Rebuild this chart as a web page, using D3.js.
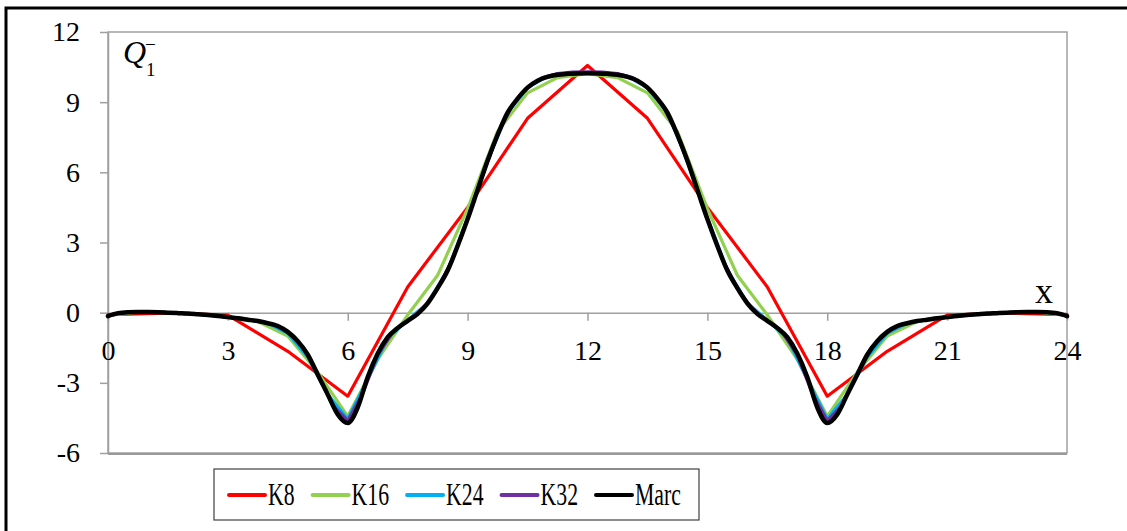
<!DOCTYPE html>
<html>
<head>
<meta charset="utf-8">
<script src="https://cdn.jsdelivr.net/npm/d3@7"></script>
<style>
  body { margin: 0; background: #fff; }
  svg text { font-family: "Liberation Serif", "Times New Roman", serif; fill: #000; }
</style>
</head>
<body>
<div id="chart"></div>
<script>
// Q1- values, x from 0 to 24
const seriesNames = ["K8", "K16", "K24", "K32", "Marc"];
const seriesColors = ["#ff0000", "#92d050", "#00b0f0", "#7030a0", "#000000"];
const seriesSteps = [1.5, 0.75, 0.5, 0.375, 0.25];

const k8 = [-0.08, -0.02, -0.10, -1.65, -3.57, 1.10, 4.50, 8.31, 10.57, 8.31, 4.50, 1.10, -3.57, -1.65, -0.10, -0.02, -0.08];

const k16 = [-0.12, 0.02, 0.00, -0.06, -0.18, -0.38, -1.00, -2.55, -4.43, -2.00, -0.10, 1.60, 4.45, 7.75, 9.40, 10.05, 10.22,
  10.05, 9.40, 7.75, 4.45, 1.60, -0.10, -2.00, -4.43, -2.55, -1.00, -0.38, -0.18, -0.06, 0.00, 0.02, -0.12];

const k24 = [-0.13, 0.02, 0.03, 0.00, -0.04, -0.10, -0.19, -0.30, -0.46, -0.88, -1.90, -3.50, -4.55, -2.85, -1.10, -0.32,
  0.42, 1.82, 4.05, 6.50, 8.55, 9.62, 10.10, 10.24, 10.26,
  10.24, 10.10, 9.62, 8.55, 6.50, 4.05, 1.82, 0.42, -0.32, -1.10, -2.85, -4.55, -3.50, -1.90, -0.88, -0.46, -0.30,
  -0.19, -0.10, -0.04, 0.00, 0.03, 0.02, -0.13];

const k32 = [-0.14, 0.00, 0.03, 0.03, 0.00, -0.03, -0.07, -0.12, -0.19, -0.26, -0.36, -0.50, -0.84, -1.45, -2.65, -3.95,
  -4.62, -3.45, -1.80, -0.85, -0.34, 0.15, 1.05, 2.30, 4.00, 5.88, 7.62, 8.88, 9.65, 10.05, 10.22, 10.29, 10.30,
  10.29, 10.22, 10.05, 9.65, 8.88, 7.62, 5.88, 4.00, 2.30, 1.05, 0.15, -0.34, -0.85, -1.80, -3.45, -4.62, -3.95,
  -2.65, -1.45, -0.84, -0.50, -0.36, -0.26, -0.19, -0.12, -0.07, -0.03, 0.00, 0.03, 0.03, 0.00, -0.14];

const marc = [-0.15, -0.02, 0.02, 0.03, 0.03, 0.02, 0.00, -0.02, -0.04, -0.07, -0.10, -0.14, -0.19, -0.24, -0.30, -0.36,
  -0.45, -0.57, -0.82, -1.22, -1.80, -2.65, -3.50, -4.35, -4.72, -4.05, -2.75, -1.75, -1.05, -0.65, -0.35, -0.05,
  0.40, 1.05, 1.80, 2.85, 4.00, 5.25, 6.50, 7.60, 8.55, 9.15, 9.62, 9.92, 10.08, 10.17, 10.21, 10.23, 10.24,
  10.23, 10.21, 10.17, 10.08, 9.92, 9.62, 9.15, 8.55, 7.60, 6.50, 5.25, 4.00, 2.85, 1.80, 1.05, 0.40, -0.05,
  -0.35, -0.65, -1.05, -1.75, -2.75, -4.05, -4.72, -4.35, -3.50, -2.65, -1.80, -1.22, -0.82, -0.57, -0.45, -0.36,
  -0.30, -0.24, -0.19, -0.14, -0.10, -0.07, -0.04, -0.02, 0.00, 0.02, 0.03, 0.03, 0.02, -0.02, -0.15];

const seriesValues = [k8, k16, k24, k32, marc];
const xTicks = [0, 3, 6, 9, 12, 15, 18, 21, 24];
const yTicks = [-6, -3, 0, 3, 6, 9, 12];

const width = 1127, height = 531;
const margin = { top: 32, right: 60, bottom: 78, left: 108 };
const axisGray = "#a0a0a0";

const svg = d3.select("#chart").append("svg")
  .attr("width", width)
  .attr("height", height);

// outer black frame (top and left edges are visible)
svg.append("path")
  .attr("d", `M6,${height}V8H${width}`)
  .attr("fill", "none")
  .attr("stroke", "#000")
  .attr("stroke-width", 3);

const x = d3.scaleLinear().domain([0, 24]).range([margin.left, width - margin.right]);
const y = d3.scaleLinear().domain([-6, 12]).range([height - margin.bottom, margin.top]);

// plot area border
svg.append("rect")
  .attr("x", x(0))
  .attr("y", y(12))
  .attr("width", x(24) - x(0))
  .attr("height", y(-6) - y(12))
  .attr("fill", "none")
  .attr("stroke", axisGray)
  .attr("stroke-width", 1.5);
svg.append("line")
  .attr("x1", x(0)).attr("x2", x(24))
  .attr("y1", y(-6) + 1).attr("y2", y(-6) + 1)
  .attr("stroke", "#999").attr("stroke-width", 2);

// Y axis
const yAxis = svg.append("g")
  .attr("transform", `translate(${x(0)},0)`)
  .call(d3.axisLeft(y).tickValues(yTicks).tickSizeInner(8).tickSizeOuter(0).tickPadding(20));

// X axis, crossing at y = 0
const xAxis = svg.append("g")
  .attr("transform", `translate(0,${y(0)})`)
  .call(d3.axisBottom(x).tickValues(xTicks).tickSizeInner(8).tickSizeOuter(0).tickPadding(19));

[yAxis, xAxis].forEach((ax) => {
  ax.select(".domain").attr("stroke", axisGray).attr("stroke-width", 1.5);
  ax.selectAll(".tick line").attr("stroke", axisGray).attr("stroke-width", 1.5);
  ax.selectAll(".tick text")
    .attr("font-family", "Liberation Serif, Times New Roman, serif")
    .attr("font-size", 28)
    .attr("fill", "#000");
});
yAxis.selectAll(".tick text").text((d) => (d < 0 ? "-" + Math.abs(d) : d));

// lines
const plot = svg.append("g");
seriesNames.forEach((name, i) => {
  const step = seriesSteps[i];
  const line = d3.line()
    .x((d, j) => x(j * step))
    .y((d) => y(d))
    .curve(name == "Marc" ? d3.curveMonotoneX : d3.curveLinear);
  plot.append("path")
    .datum(seriesValues[i])
    .attr("d", line)
    .attr("fill", "none")
    .attr("stroke", seriesColors[i])
    .attr("stroke-width", name == "Marc" ? 4.5 : 3.2)
    .attr("stroke-linejoin", "round")
    .attr("stroke-linecap", "round");
});

// Q1- label: letter, subscript and superscript as separate texts
svg.append("text").attr("x", 123).attr("y", 63).attr("font-size", 32).attr("font-style", "italic").text("Q");
svg.append("text").attr("x", 146).attr("y", 76).attr("font-size", 19).text("1");
svg.append("text").attr("x", 145).attr("y", 51).attr("font-size", 19).text("\u2212");

// x label
svg.append("text")
  .attr("x", 1044)
  .attr("y", 303)
  .attr("text-anchor", "middle")
  .attr("font-size", 36)
  .text("x");

// legend
const legend = svg.append("g");
legend.append("rect")
  .attr("x", 214).attr("y", 469)
  .attr("width", 485).attr("height", 51)
  .attr("fill", "#fff")
  .attr("stroke", "#404040")
  .attr("stroke-width", 1.2);

let lx = 229;
seriesNames.forEach((name, i) => {
  const item = legend.append("g").attr("transform", `translate(${lx},495)`);
  item.append("line")
    .attr("x1", 0).attr("x2", 36)
    .attr("stroke", seriesColors[i])
    .attr("stroke-width", 4)
    .attr("stroke-linecap", "round");
  const t = item.append("text")
    .attr("transform", "translate(39,10) scale(0.68,1)")
    .attr("font-size", 32)
    .text(name);
  const tw = t.node().getComputedTextLength() * 0.68;
  lx += 39 + tw + 18;
});
</script>
</body>
</html>
